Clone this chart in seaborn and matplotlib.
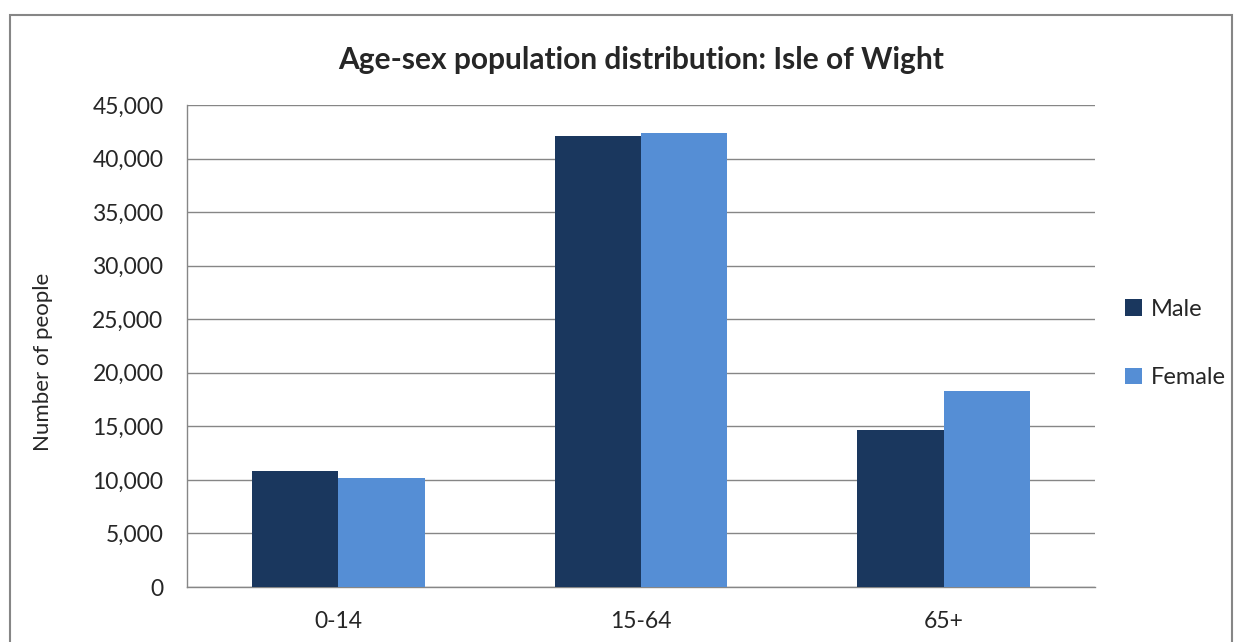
import numpy as np
import pandas as pd
import matplotlib.pyplot as plt
import seaborn as sns
from matplotlib.patches import Rectangle
from matplotlib.ticker import FuncFormatter

# data
age_groups = ["0-14", "15-64", "65+"]
male = [10830, 42060, 14630]
female = [10130, 42340, 18270]

df = pd.DataFrame({
    "age": age_groups * 2,
    "people": male + female,
    "sex": ["Male"] * 3 + ["Female"] * 3,
})

sns.set_style("white")
plt.rcParams["font.family"] = ["Lato", "DejaVu Sans"]

fig = plt.figure(figsize=(12.42, 6.42), dpi=100)
ax = fig.add_axes([187 / 1242, 1 - 587 / 642, (1095 - 187) / 1242, (587 - 105) / 642])

sns.barplot(data=df, x="age", y="people", hue="sex", ax=ax,
            palette={"Male": "#1a375e", "Female": "#558ed5"},
            width=0.57, saturation=1, gap=0, linewidth=0, zorder=3)

ax.set_ylim(0, 45000)
ax.set_xlim(-0.5, 2.5)
ax.set_yticks(np.arange(0, 45001, 5000))
ax.yaxis.set_major_formatter(FuncFormatter(lambda v, p: f"{int(v):,}"))
ax.set_xticks([-0.5, 0.5, 1.5, 2.5], minor=False)
ax.set_xticklabels([])
ax.set_xticks([0, 1, 2], minor=True)
ax.set_xticklabels(age_groups, minor=True)
ax.tick_params(axis="x", which="major", direction="out", length=7, color="#868686", width=1)
ax.tick_params(axis="x", which="minor", length=0, labelsize=16.5, pad=17)
ax.tick_params(axis="y", direction="out", length=7, color="#868686", width=1, labelsize=16.5, pad=10)
ax.yaxis.grid(True, color="#868686", linewidth=1, zorder=0)
ax.set_axisbelow(True)
for s in ["top", "right"]:
    ax.spines[s].set_visible(False)
for s in ["left", "bottom"]:
    ax.spines[s].set_color("#868686")
    ax.spines[s].set_linewidth(1)

ax.set_xlabel("")
ax.set_ylabel("Number of people", fontsize=16)
ax.yaxis.set_label_coords((53 - 187) / 908, (587 - 362) / 482)
ax.set_title("Age-sex population distribution: Isle of Wight",
             fontsize=21.5, fontweight="bold", pad=26)

ax.legend(loc="center left", bbox_to_anchor=(1 + (1125 - 1095) / 908, 0.505), frameon=False,
          fontsize=17, handlelength=0.7, handleheight=0.7, labelspacing=2.0,
          handletextpad=0.4, borderpad=0, borderaxespad=0)

# outer chart border
fig.add_artist(Rectangle((10 / 1242, -0.05), (1232 - 10) / 1242, 1 - 15 / 642 + 0.05,
                         transform=fig.transFigure, fill=False,
                         edgecolor="#868686", linewidth=1.5, clip_on=False))

fig.savefig("out.png", dpi=100)
